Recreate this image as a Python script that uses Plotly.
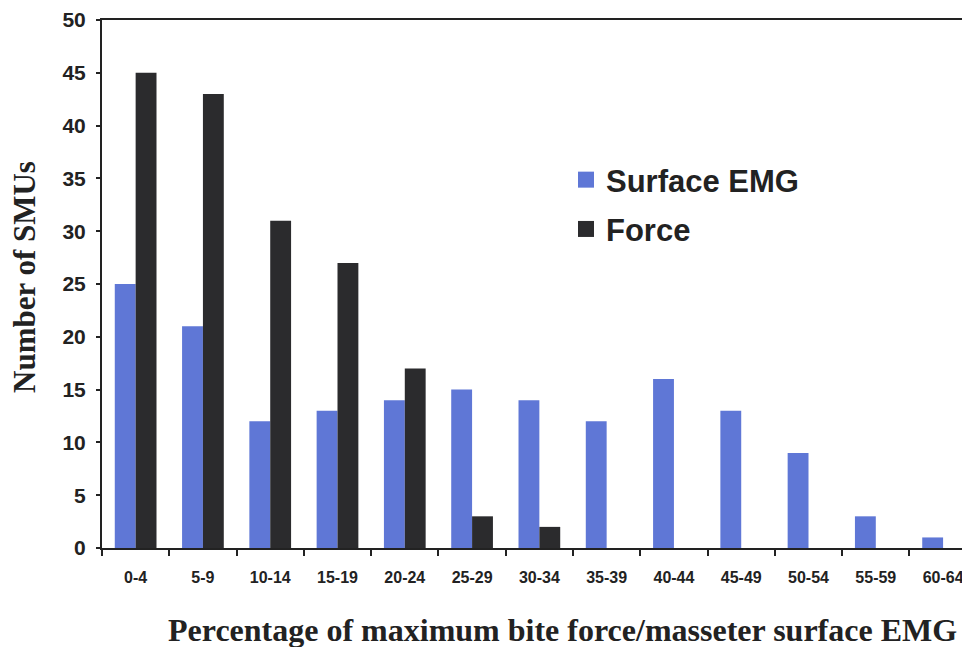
import plotly.graph_objects as go

categories = ["0-4", "5-9", "10-14", "15-19", "20-24", "25-29", "30-34",
              "35-39", "40-44", "45-49", "50-54", "55-59", "60-64"]
surface_emg = [25, 21, 12, 13, 14, 15, 14, 12, 16, 13, 9, 3, 1]
force = [45, 43, 31, 27, 17, 3, 2, 0, 0, 0, 0, 0, 0]
y_ticks = [0, 5, 10, 15, 20, 25, 30, 35, 40, 45, 50]

BLUE = "#5f77d6"
DARK = "#2b2b2d"

fig = go.Figure()
fig.add_trace(go.Bar(x=categories, y=surface_emg, name="Surface EMG", showlegend=False,
                     marker=dict(color=BLUE, line=dict(width=0))))
fig.add_trace(go.Bar(x=categories, y=force, name="Force", showlegend=False,
                     marker=dict(color=DARK, line=dict(width=0))))
# legend entries with larger square symbols
fig.add_trace(go.Scatter(x=[None], y=[None], mode="markers", name="Surface EMG",
                         legendgroup="a",
                         marker=dict(symbol="square", size=19, color=BLUE)))
fig.add_trace(go.Scatter(x=[None], y=[None], mode="markers", name="Force",
                         legendgroup="b",
                         marker=dict(symbol="square", size=19, color=DARK)))

# page body has an 8px margin, so figure is offset by 8px
OFF = 8
W, H = 962, 639
L, R, T, B = 102 - OFF, 0, 20 - OFF, H - (548 - OFF)
pw, ph = W - L - R, H - T - B

def px2paper(px, py):
    # px, py are screenshot pixel positions
    return (px - OFF - L) / pw, (H - B - (py - OFF)) / ph

xt_x, xt_y = px2paper(562, 630)
yt_x, yt_y = px2paper(24, 277)
lg_x, lg_y = px2paper(566, 153)

fig.update_layout(
    width=W, height=H,
    margin=dict(l=L, r=R, t=T, b=B),
    paper_bgcolor="white", plot_bgcolor="white",
    barmode="group", bargap=0.38, bargroupgap=0,
    showlegend=True,
    legend=dict(x=lg_x, y=lg_y, xanchor="left", yanchor="top",
                font=dict(family="Arial, Liberation Sans", size=31, color="#222",
                          weight="bold"),
                traceorder="grouped", tracegroupgap=6,
                itemwidth=30, bgcolor="rgba(0,0,0,0)"),
    xaxis=dict(range=[-0.5, 12.4], showline=True, linecolor="#222", linewidth=2,
               mirror=True, ticks="outside", tickson="boundaries", ticklen=6,
               tickwidth=2, tickcolor="#222", showgrid=False, automargin=False,
               ticklabelstandoff=14,
               tickfont=dict(family="Arial, Liberation Sans", size=16, color="#222",
                             weight="bold")),
    yaxis=dict(range=[0, 50], tickvals=y_ticks, showline=True, linecolor="#222",
               linewidth=2, ticks="outside", ticklen=4, tickwidth=2, tickcolor="#222",
               showgrid=False, zeroline=False, ticklabelstandoff=6, automargin=False,
               tickfont=dict(family="Arial, Liberation Sans", size=21, color="#222",
                             weight="bold")),
    annotations=[
        dict(text="<b>Percentage of maximum bite force/masseter surface EMG</b>",
             x=xt_x, y=xt_y, xref="paper", yref="paper", showarrow=False,
             xanchor="center", yanchor="middle",
             font=dict(family="Liberation Serif, Times New Roman", size=32, color="#222")),
        dict(text="<b>Number of SMUs</b>", textangle=-90,
             x=yt_x, y=yt_y, xref="paper", yref="paper", showarrow=False,
             xanchor="center", yanchor="middle",
             font=dict(family="Liberation Serif, Times New Roman", size=31, color="#222")),
    ],
)

fig.write_html("out.html")
